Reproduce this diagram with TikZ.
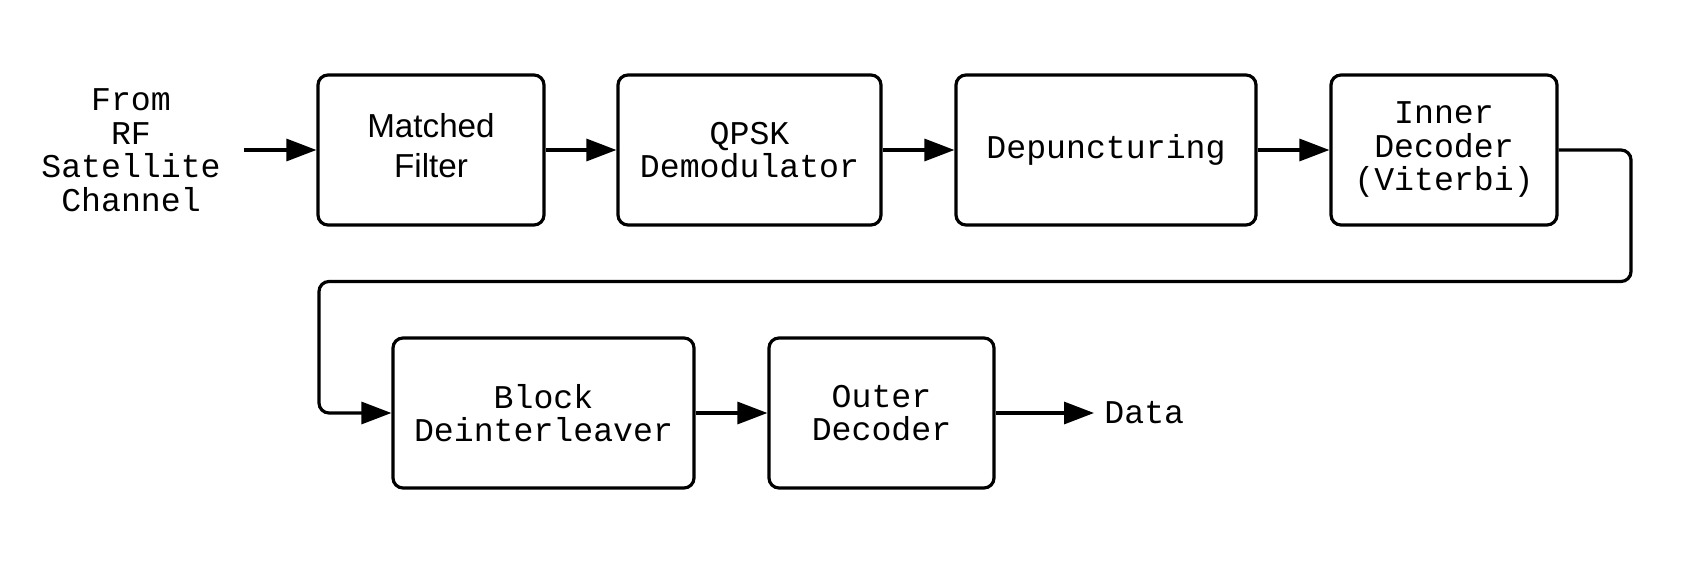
\documentclass[tikz,border=0pt]{standalone}
\usepackage{fontspec}
\setmainfont{Liberation Sans}
\setmonofont{Liberation Mono}
\usetikzlibrary{arrows.meta}
\begin{document}
\begin{tikzpicture}[x=0.5pt,y=0.5pt,
  blk/.style={draw, line width=1.6pt, rounded corners=5pt, minimum height=75pt,
    inner sep=0pt, align=center, font=\ttfamily\fontsize{16.6}{16.75}\selectfont},
  conn/.style={line width=1.6pt, -{Triangle[length=15pt,width=11pt]}}]
\useasboundingbox (0,0) rectangle (1706,563);
% top row
\node[font=\ttfamily\fontsize{16.6}{16.75}\selectfont, align=center, inner xsep=11.5pt] (src) at (131,413) {From\\RF\\Satellite\\Channel};
\node[blk, minimum width=113pt, text depth=5pt, font=\fontsize{16.6}{20}\selectfont] (mf) at (431,413) {Matched\\Filter};
\node[blk, minimum width=131.5pt] (qpsk) at (749.5,413) {QPSK\\Demodulator};
\node[blk, minimum width=150pt] (dep) at (1106,413) {Depuncturing};
\node[blk, minimum width=113pt] (inner) at (1444,413) {Inner\\Decoder\\(Viterbi)};
% bottom row
\node[blk, minimum width=150.5pt] (deint) at (543.5,150) {Block\\Deinterleaver};
\node[blk, minimum width=112.5pt] (outer) at (881.5,150) {Outer\\Decoder};
\node[anchor=west, inner xsep=5pt, font=\ttfamily\fontsize{16.6}{16.75}\selectfont] (data) at (1094,150) {Data};
\coordinate (turnR) at (1631,281.5);
\coordinate (turnL) at (319,281.5);
\draw[conn] (src) -- (mf);
\draw[conn] (mf) -- (qpsk);
\draw[conn] (qpsk) -- (dep);
\draw[conn] (dep) -- (inner);
\draw[conn, rounded corners=5pt] (inner.east) -| (turnR) -- (turnL) |- (deint.west);
\draw[conn] (deint) -- (outer);
\draw[conn] (outer) -- (data);
\end{tikzpicture}
\end{document}
